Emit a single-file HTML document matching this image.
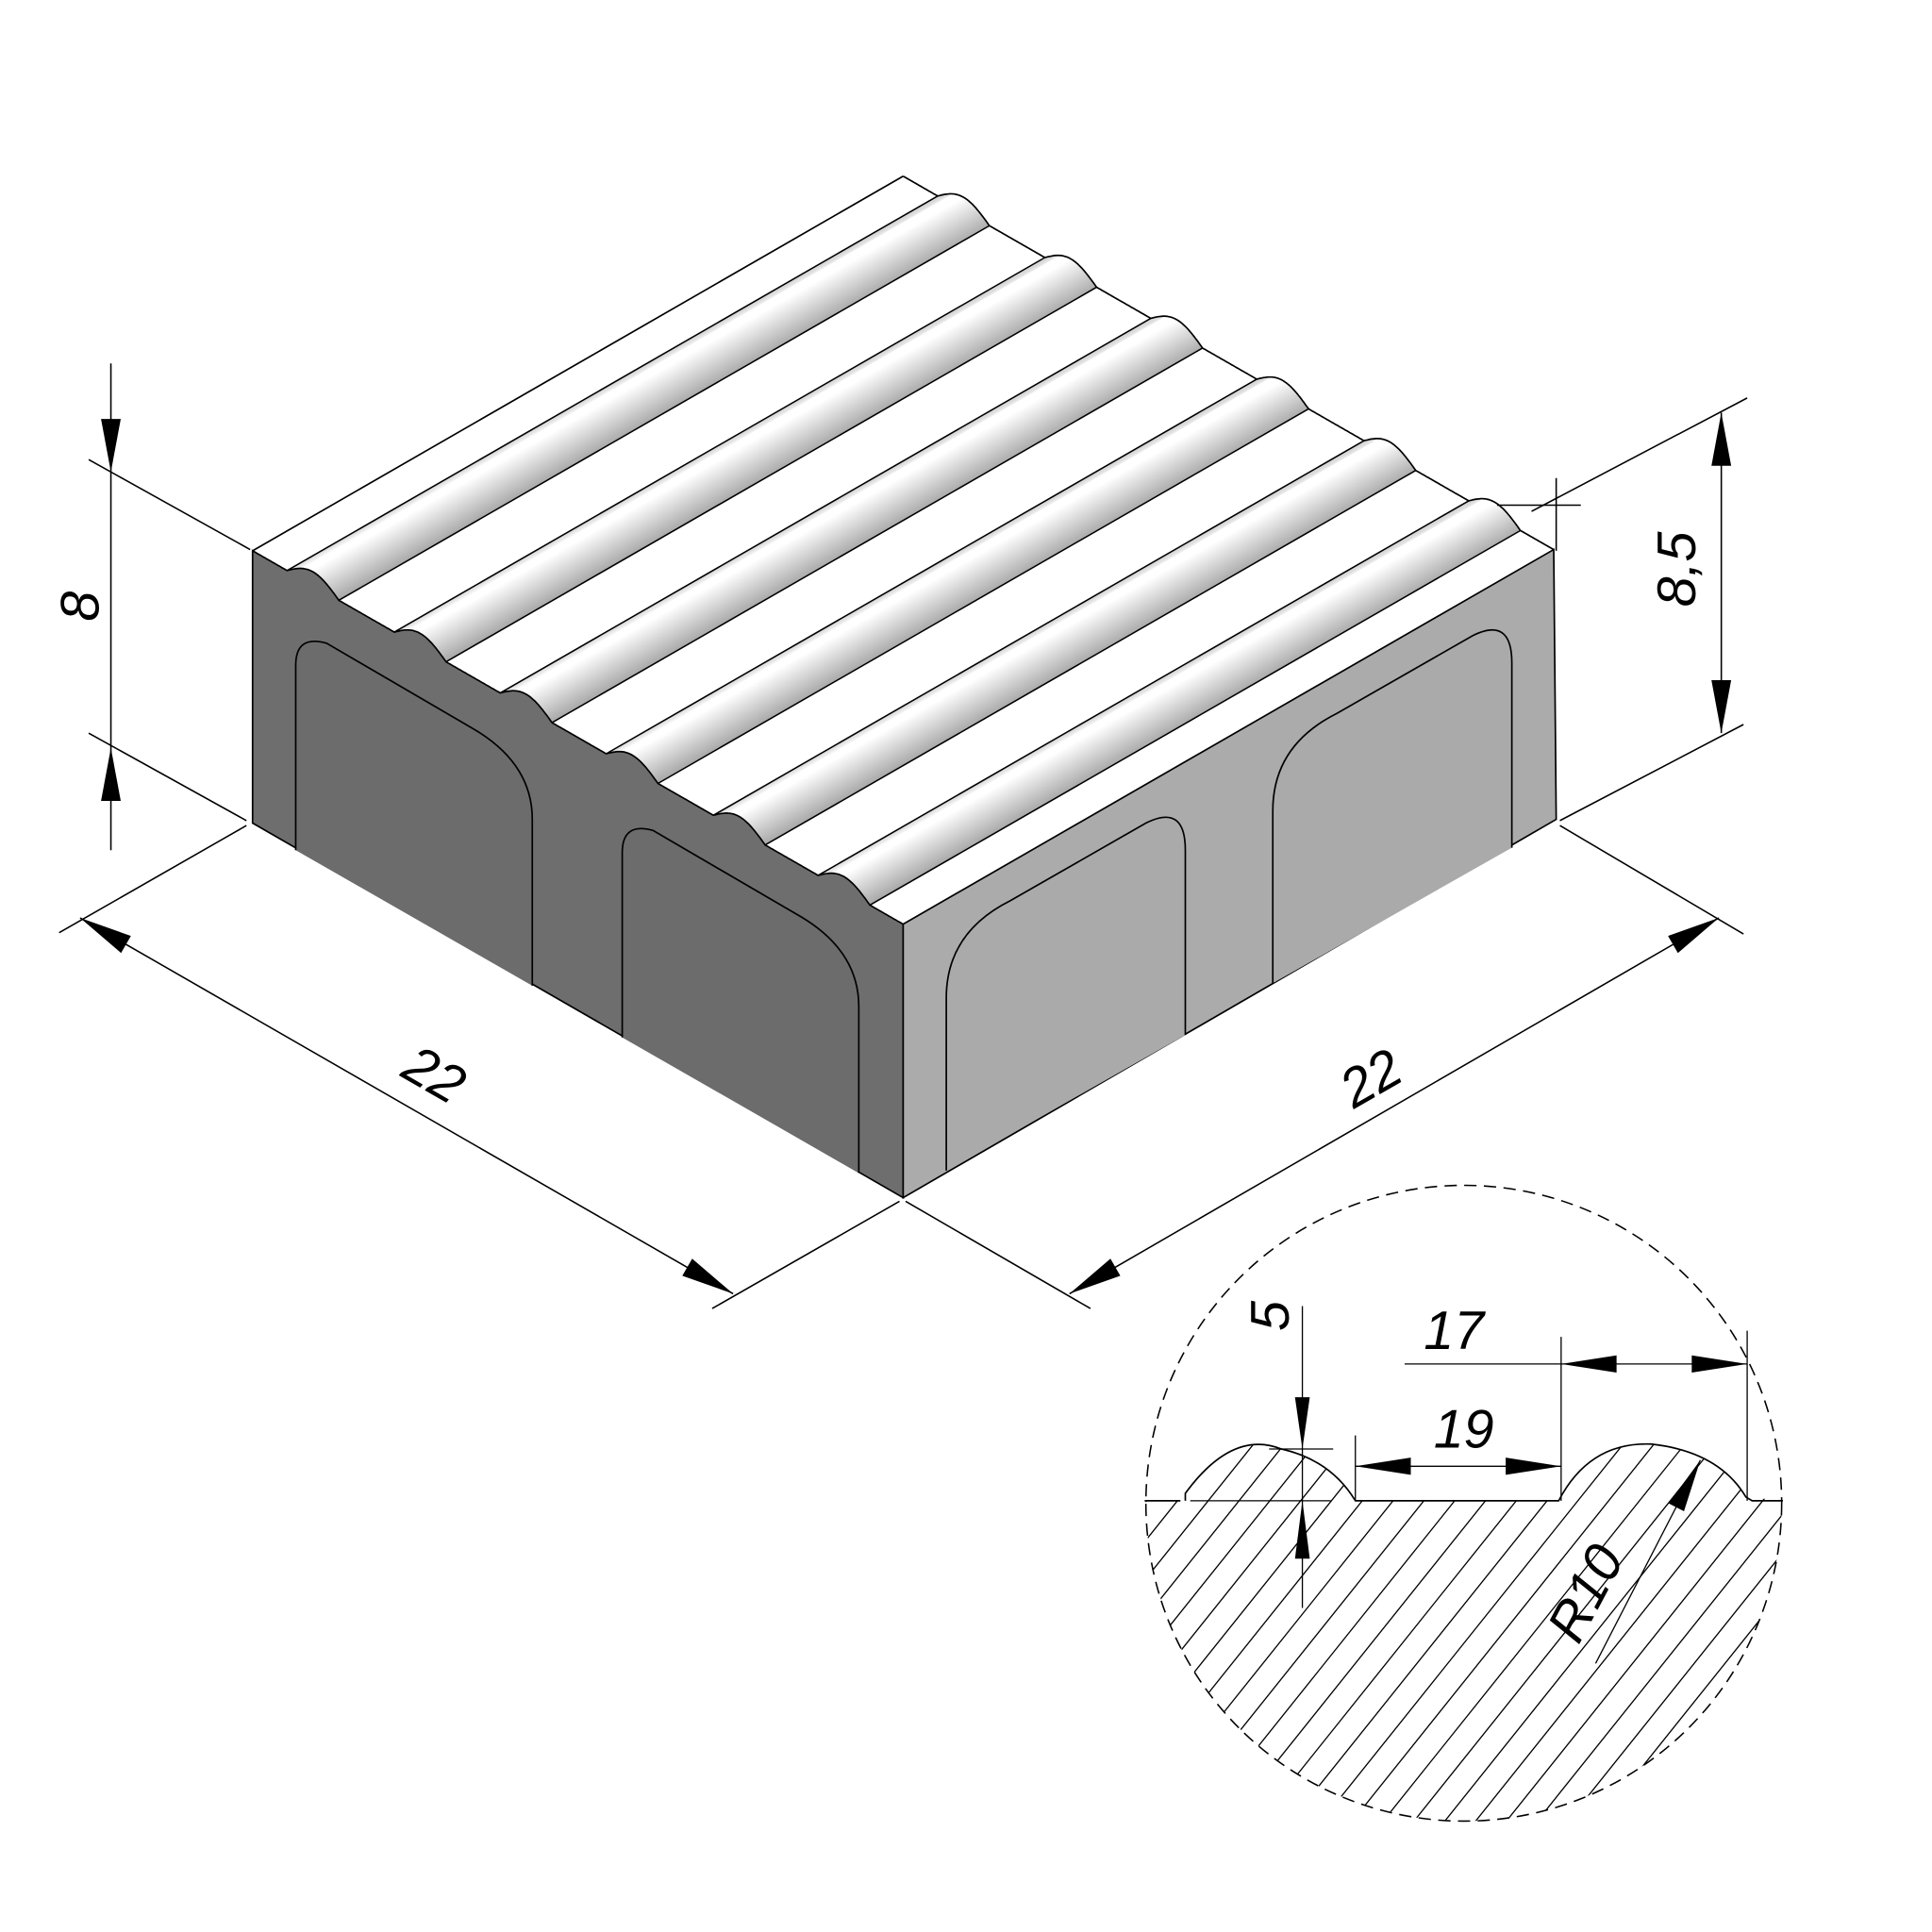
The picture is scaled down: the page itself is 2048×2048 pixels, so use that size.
<!DOCTYPE html>
<html><head><meta charset="utf-8"><style>
html,body{margin:0;padding:0;background:#fff;}
svg{display:block;}
text{font-family:"Liberation Sans",sans-serif;font-style:italic;font-size:44px;fill:#000;}
</style></head><body>
<svg id="s" width="2048" height="2048" viewBox="0 0 1568 1568" xmlns="http://www.w3.org/2000/svg">
<defs>
<clipPath id="cc"><circle cx="1188" cy="1220" r="258"/></clipPath>
<clipPath id="hc"><path d="M929,1218 L962,1218 L962,1212 Q1000,1160 1040,1176 Q1080,1185 1100,1218 L1265,1218 Q1290,1170 1340,1172 Q1395,1178 1417,1215 L1450,1218 L1450,1490 L929,1490 Z"/></clipPath>
</defs>
<g id="block"></g>
<g fill="none" stroke="#000" stroke-width="1.3">
<!-- panels left face -->
<path d="M240,690 L240,540 Q240,515 265,522 L385,592 Q432,620 432,665 L432,800" fill="#6c6c6c"/>
<path transform="translate(265,152)" d="M240,690 L240,540 Q240,515 265,522 L385,592 Q432,620 432,665 L432,800" fill="#6c6c6c"/>
<path d="M768,950 L768,810 Q768,757 820,731 L930,668 Q962,652 962,690 L962,840" fill="#aaaaaa"/>
<path transform="translate(265,-152)" d="M768,950 L768,810 Q768,757 820,731 L930,668 Q962,652 962,690 L962,840" fill="#aaaaaa"/>
</g>
<g stroke="#000" stroke-width="1.2" fill="none">
<!-- dim 8 -->
<line x1="90" y1="295" x2="90" y2="690"/>
<line x1="72" y1="373" x2="203" y2="446"/>
<line x1="72" y1="595" x2="200" y2="666"/>
<!-- dim 8,5 -->
<line x1="1397" y1="335" x2="1397" y2="595"/>
<line x1="1243" y1="415" x2="1418" y2="323"/>
<line x1="1266" y1="666" x2="1415" y2="588"/>
<line x1="1215" y1="410" x2="1283" y2="410"/>
<line x1="1263" y1="388" x2="1263" y2="447"/>
<!-- dim 22 left -->
<line x1="65" y1="745" x2="595" y2="1050"/>
<line x1="48" y1="757" x2="200" y2="670"/>
<line x1="578" y1="1062" x2="730" y2="975"/>
<!-- dim 22 right -->
<line x1="868" y1="1050" x2="1395" y2="745"/>
<line x1="735" y1="975" x2="885" y2="1062"/>
<line x1="1266" y1="670" x2="1415" y2="758"/>
</g>
<g fill="#000">
<polygon points="90,383 82,340 98,340"/>
<polygon points="90,607 82,650 98,650"/>
<polygon points="1397,335 1389,378 1405,378"/>
<polygon points="1397,595 1389,552 1405,552"/>
<g transform="translate(65,745) rotate(30)"><polygon points="0,0 43,-8 43,8"/></g>
<g transform="translate(595,1050) rotate(30)"><polygon points="0,0 -43,-8 -43,8"/></g>
<g transform="translate(868,1050) rotate(-30)"><polygon points="0,0 43,-8 43,8"/></g>
<g transform="translate(1395,745) rotate(-30)"><polygon points="0,0 -43,-8 -43,8"/></g>
</g>
<text transform="translate(80,492) rotate(-90)" text-anchor="middle">8</text>
<text transform="translate(1376,462) rotate(-90)" text-anchor="middle">8,5</text>
<text transform="translate(345,885) rotate(30)" text-anchor="middle">22</text>
<text transform="translate(1120,888) rotate(-30)" text-anchor="middle">22</text>

<!-- detail -->
<g clip-path="url(#cc)"><g clip-path="url(#hc)" stroke="#000" stroke-width="1" id="hatch"></g></g>
<circle cx="1188" cy="1220" r="258" fill="none" stroke="#000" stroke-width="1.2" stroke-dasharray="10,6"/>
<g fill="none" stroke="#000" stroke-width="1.3">
<path d="M929,1218 L958,1218 M962,1218 L962,1212 Q1000,1160 1040,1176 Q1080,1185 1100,1218 L1265,1218 Q1290,1170 1340,1172 Q1395,1178 1417,1215 L1422,1218 L1447,1218"/>
<line x1="966" y1="1218" x2="1080" y2="1218" stroke-width="1"/>
<line x1="1057" y1="1060" x2="1057" y2="1305" stroke-width="1"/>
<line x1="1030" y1="1176" x2="1082" y2="1176" stroke-width="1"/>
<line x1="1100" y1="1165" x2="1100" y2="1218" stroke-width="1"/>
<line x1="1267" y1="1085" x2="1267" y2="1218" stroke-width="1"/>
<line x1="1418" y1="1080" x2="1418" y2="1218" stroke-width="1"/>
<line x1="1100" y1="1190" x2="1267" y2="1190" stroke-width="1"/>
<line x1="1140" y1="1107" x2="1418" y2="1107" stroke-width="1"/>
<line x1="1295" y1="1350" x2="1380" y2="1185" stroke-width="1"/>
</g>
<g fill="#000">
<polygon points="1057,1176 1051,1134 1063,1134"/>
<polygon points="1057,1218 1051,1265 1063,1265"/>
<polygon points="1100,1190 1145,1183 1145,1197"/>
<polygon points="1267,1190 1222,1183 1222,1197"/>
<polygon points="1267,1107 1312,1100 1312,1114"/>
<polygon points="1418,1107 1373,1100 1373,1114"/>
<g transform="translate(1380,1185) rotate(117)"><polygon points="0,0 43,-7 43,7"/></g>
</g>
<text transform="translate(1046,1068) rotate(-90)" text-anchor="middle">5</text>
<text x="1180" y="1095" text-anchor="middle">17</text>
<text x="1188" y="1175" text-anchor="middle">19</text>
<text transform="translate(1300,1300) rotate(-62)" text-anchor="middle">R10</text>
</svg>
<script>
(function(){
var NS="http://www.w3.org/2000/svg";
var g=document.getElementById('block');
function el(t,a){var e=document.createElementNS(NS,t);for(var k in a)e.setAttribute(k,a[k]);g.appendChild(e);return e;}
var V=[528,-304];
var starts=[233,320,406,492,579,664],W=42,H=11;
function ey(x){return 447+0.574*(x-205);}
function prof(x){var h=0;for(var i=0;i<6;i++){var s=starts[i];if(x>=s&&x<=s+W){h=H*Math.sin(Math.PI*(x-s)/W);}}return [x,ey(x)-h];}
var pts=[];for(var x=205;x<=733;x+=1)pts.push(prof(x));
function ps(a,dx,dy){return a.map(function(p){return (p[0]+dx).toFixed(1)+','+(p[1]+dy).toFixed(1);}).join(' ');}
// top face
var top=ps(pts,0,0)+' '+(733+V[0])+','+(750+V[1])+' '+(205+V[0])+','+(447+V[1]);
el('polygon',{points:top,fill:'#fff'});
// rib shading
var defs=document.createElementNS(NS,'defs');g.appendChild(defs);
var n=[0.496,0.868];
for(var i=0;i<6;i++){
 var s=starts[i];var a=prof(s+W*0.45),b=prof(s+W);
 var d=[b[0]-a[0],b[1]-a[1]],k=d[0]*n[0]+d[1]*n[1];
 var gr=document.createElementNS(NS,'linearGradient');gr.setAttribute('id','r'+i);gr.setAttribute('gradientUnits','userSpaceOnUse');
 gr.setAttribute('x1',a[0]);gr.setAttribute('y1',a[1]);gr.setAttribute('x2',a[0]+k*n[0]);gr.setAttribute('y2',a[1]+k*n[1]);
 gr.innerHTML='<stop offset="0" stop-color="#fff"/><stop offset="1" stop-color="#a8a8a8"/>';defs.appendChild(gr);
 var seg=[];for(var x=s+W*0.45;x<=s+W;x+=1)seg.push(prof(x));
 var rev=seg.slice().reverse().map(function(p){return [p[0]+V[0],p[1]+V[1]];});
 el('polygon',{points:ps(seg,0,0)+' '+ps(rev,0,0),fill:'url(#r'+i+')'});
 // light shading near start
 var a2=prof(s),b2=prof(s+W*0.3);
 var d2=[b2[0]-a2[0],b2[1]-a2[1]],k2=d2[0]*n[0]+d2[1]*n[1];
 var gr2=document.createElementNS(NS,'linearGradient');gr2.setAttribute('id','q'+i);gr2.setAttribute('gradientUnits','userSpaceOnUse');
 gr2.setAttribute('x1',a2[0]);gr2.setAttribute('y1',a2[1]);gr2.setAttribute('x2',a2[0]+k2*n[0]);gr2.setAttribute('y2',a2[1]+k2*n[1]);
 gr2.innerHTML='<stop offset="0" stop-color="#d8d8d8"/><stop offset="1" stop-color="#fff"/>';defs.appendChild(gr2);
 var seg2=[];for(var x=s;x<=s+W*0.3;x+=1)seg2.push(prof(x));
 var rev2=seg2.slice().reverse().map(function(p){return [p[0]+V[0],p[1]+V[1]];});
 el('polygon',{points:ps(seg2,0,0)+' '+ps(rev2,0,0),fill:'url(#q'+i+')'});
}
// left face
el('polygon',{points:ps(pts,0,0)+' 733,972 205,668',fill:'#6e6e6e',stroke:'#000','stroke-width':1.3});
// right face
el('polygon',{points:'733,750 1261,446 1263,665 733,972',fill:'#ababab',stroke:'#000','stroke-width':1.3});
// back silhouette
var back=pts.map(function(p){return [p[0]+V[0],p[1]+V[1]];});
el('polyline',{points:ps(back,0,0),fill:'none',stroke:'#000','stroke-width':1.3});
el('line',{x1:205,y1:447,x2:733,y2:143,stroke:'#000','stroke-width':1.3});
// rib lines
for(var i=0;i<6;i++){
 var s=starts[i];
 [prof(s),prof(s+W)].forEach(function(p){el('line',{x1:p[0],y1:p[1],x2:p[0]+V[0],y2:p[1]+V[1],stroke:'#000','stroke-width':1.2});});
}
})();
(function(){
var h=document.getElementById('hatch');var s='';
for(var c=900;c<2900;c+=25){s+='<line x1="'+(c-600)+'" y1="1600" x2="'+c+'" y2="'+(1600-600*1.25)+'"/>';}
h.innerHTML=s;
})();
</script>
</body></html>
